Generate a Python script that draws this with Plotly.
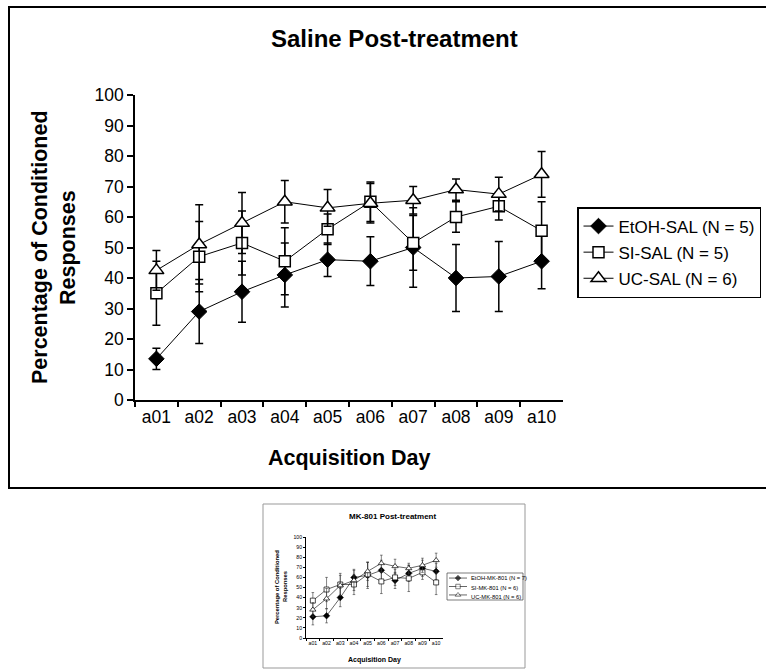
import plotly.graph_objects as go

W, H = 766, 671
def px(x): return x / W
def py(y): return 1 - y / H

days = ['a01', 'a02', 'a03', 'a04', 'a05', 'a06', 'a07', 'a08', 'a09', 'a10']

# Saline post-treatment (main chart)
etoh_sal = [13.5, 29, 35.5, 41, 46, 45.5, 50, 40, 40.5, 45.5]
etoh_sal_err = [3.5, 10.5, 10, 10.5, 5.5, 8, 13, 11, 11.5, 9]
si_sal = [35, 47, 51.5, 45.5, 56, 65, 51.5, 60, 63.5, 55.5]
si_sal_err = [10.5, 11.5, 10.5, 11, 5, 6.5, 9, 5, 4.5, 9.5]
uc_sal = [42.5, 51, 58, 65, 63, 64.5, 65.5, 69, 67.5, 74]
uc_sal_err = [6.5, 13, 10, 7, 6, 6.5, 4.5, 3.5, 5.5, 7.5]
sal_names = ['EtOH-SAL (N = 5)', 'SI-SAL (N = 5)', 'UC-SAL (N = 6)']

# MK-801 post-treatment (inset chart)
etoh_mk = [21, 22, 40, 60, 62, 67, 57, 64, 69, 66]
etoh_mk_err = [8, 7, 9, 8, 13, 10, 8, 8, 8, 8]
si_mk = [37, 48, 53, 53, 63, 56, 60, 59, 65, 55]
si_mk_err = [8, 12, 11, 10, 12, 12, 8, 13, 7, 12]
uc_mk = [28, 39, 52, 57, 66, 74, 71, 69, 72, 77]
uc_mk_err = [7, 10, 10, 10, 9, 8, 7, 5, 7, 7]
mk_names = ['EtOH-MK-801 (N = 7)', 'SI-MK-801 (N = 6)', 'UC-MK-801 (N = 6)']

y_ticks = list(range(0, 101, 10))

FONT = 'Liberation Sans, Arial, sans-serif'
styles = [
    dict(symbol='diamond', color='black', size=12, lw=1),
    dict(symbol='square', color='white', size=11, lw=1.5),
    dict(symbol='triangle-up', color='white', size=13, lw=1.5),
]

fig = go.Figure()

main_series = [(etoh_sal, etoh_sal_err), (si_sal, si_sal_err), (uc_sal, uc_sal_err)]
for i, ((vals, errs), st, name) in enumerate(zip(main_series, styles, sal_names)):
    fig.add_trace(go.Scatter(
        x=days, y=vals, name=name, mode='lines+markers',
        legendgroup=f'g{i}',
        line=dict(color='black', width=1),
        marker=dict(symbol=st['symbol'], color=st['color'], size=st['size'],
                    line=dict(color='black', width=st['lw'])),
        error_y=dict(type='data', array=errs, visible=True, color='black',
                     thickness=1.5, width=4),
        xaxis='x', yaxis='y'))

inset_styles = [
    dict(symbol='diamond', color='black', size=5, lw=0.5),
    dict(symbol='square', color='white', size=5, lw=0.7),
    dict(symbol='triangle-up', color='white', size=5.5, lw=0.7),
]
inset_series = [(etoh_mk, etoh_mk_err), (si_mk, si_mk_err), (uc_mk, uc_mk_err)]
for (vals, errs), st, name in zip(inset_series, inset_styles, mk_names):
    fig.add_trace(go.Scatter(
        x=days, y=vals, name=name, mode='lines+markers', showlegend=False,
        line=dict(color='black', width=0.6),
        marker=dict(symbol=st['symbol'], color=st['color'], size=st['size'],
                    line=dict(color='black', width=st['lw'])),
        error_y=dict(type='data', array=errs, visible=True, color='#333',
                     thickness=0.6, width=1.3),
        xaxis='x2', yaxis='y2'))

# inset legend symbols (hidden axis)
for i, st in enumerate(inset_styles):
    fig.add_trace(go.Scatter(
        x=[0, 0.5, 1], y=[i, i, i], mode='lines+markers', showlegend=False,
        hoverinfo='skip',
        line=dict(color='black', width=0.6),
        marker=dict(symbol=st['symbol'], color=st['color'],
                    size=[0, st['size'] - 0.5, 0],
                    line=dict(color='black', width=st['lw'])),
        xaxis='x3', yaxis='y3'))

axis_common = dict(showgrid=False, zeroline=False, showline=True,
                   linecolor='black', ticks='outside', tickcolor='black',
                   mirror=False)

fig.update_layout(
    width=W, height=H,
    margin=dict(l=0, r=0, t=0, b=0, autoexpand=False),
    paper_bgcolor='white', plot_bgcolor='white',
    font=dict(family=FONT, color='black'),
    xaxis=dict(domain=[px(135), px(563)], anchor='y', type='category',
               range=[-0.5, 9.5], tickson='boundaries', ticklen=5,
               linewidth=1.5, tickwidth=1.5, tickangle=0,
               tickfont=dict(size=17.5), **axis_common),
    yaxis=dict(domain=[py(400), py(95)], anchor='x', range=[0, 100],
               tickvals=y_ticks, ticklen=6, linewidth=1.5, tickwidth=1.5,
               tickfont=dict(size=17.5), **axis_common),
    xaxis2=dict(domain=[px(306), px(443)], anchor='y2', type='category',
                range=[-0.5, 9.5], tickson='boundaries', ticklen=2,
                linewidth=0.7, tickwidth=0.7, tickangle=0,
                tickfont=dict(size=5.2), **axis_common),
    yaxis2=dict(domain=[py(638), py(537)], anchor='x2', range=[0, 100],
                tickvals=y_ticks, ticklen=2, linewidth=0.7, tickwidth=0.7,
                tickfont=dict(size=5.2), **axis_common),
    xaxis3=dict(domain=[px(449), px(467)], anchor='y3', range=[0, 1],
                visible=False),
    yaxis3=dict(domain=[py(600), py(573)], anchor='x3', range=[2.6, -0.6],
                visible=False),
    legend=dict(x=px(577), y=py(207), xanchor='left', yanchor='top',
                bordercolor='black', borderwidth=1.5, bgcolor='white',
                font=dict(size=17), tracegroupgap=1, itemwidth=30),
    showlegend=True,
)

shapes = [
    dict(type='rect', xref='paper', yref='paper', x0=px(9), x1=px(780),
         y0=py(488), y1=py(7), line=dict(color='black', width=2)),
    dict(type='rect', xref='paper', yref='paper', x0=px(263), x1=px(525),
         y0=py(668), y1=py(504), line=dict(color='#999', width=1)),
    dict(type='rect', xref='paper', yref='paper', x0=px(447), x1=px(523),
         y0=py(600), y1=py(573), line=dict(color='#444', width=0.7)),
]
fig.update_layout(shapes=shapes)

ann = [
    dict(text='<b>Saline Post-treatment</b>', x=px(394), y=py(38.5),
         font=dict(size=24)),
    dict(text='<b>Acquisition Day</b>', x=px(349), y=py(458),
         font=dict(size=21.5)),
    dict(text='<b>Percentage of Conditioned</b>', x=px(39.5), y=py(247.5),
         textangle=-90, font=dict(size=21.5)),
    dict(text='<b>Responses</b>', x=px(67.5), y=py(247.5),
         textangle=-90, font=dict(size=21.5)),
    dict(text='<b>MK-801 Post-treatment</b>', x=px(393), y=py(516),
         font=dict(size=8)),
    dict(text='<b>Acquisition Day</b>', x=px(374), y=py(660),
         font=dict(size=7)),
    dict(text='<b>Percentage of Conditioned</b>', x=px(277), y=py(587),
         textangle=-90, font=dict(size=5.8)),
    dict(text='<b>Responses</b>', x=px(285), y=py(587),
         textangle=-90, font=dict(size=5.8)),
]
for i, name in enumerate(mk_names):
    ann.append(dict(text=name, x=px(469), y=py(578 + 9.5 * i),
                    xanchor='left', font=dict(size=5.8)))
for a in ann:
    a.setdefault('xanchor', 'center')
    a.update(xref='paper', yref='paper', showarrow=False, yanchor='middle')
fig.update_layout(annotations=ann)

fig.write_html('out.html', config={'displayModeBar': False},
               post_script="document.body.style.margin='0';"
                           "document.body.style.overflow='hidden';")
